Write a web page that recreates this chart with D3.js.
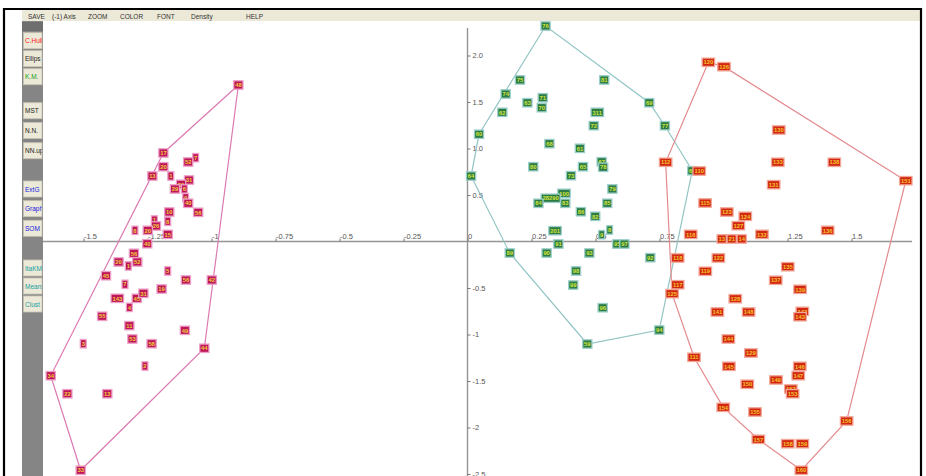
<!DOCTYPE html>
<html><head><meta charset="utf-8">
<script src="https://cdn.jsdelivr.net/npm/d3@7"></script>
<style>body{margin:0;background:#fff;overflow:hidden;} svg{display:block;}</style>
</head><body><svg id="c" width="926" height="476"></svg>
<script>
// ---- data (x, y, label) ----
const clusterA = [
 [-0.895,1.683,"48"],[-1.188,0.952,"17"],[-1.062,0.901,"7"],[-1.091,0.855,"52"],[-1.188,0.804,"20"],
 [-1.231,0.704,"13"],[-1.159,0.704,"1"],[-1.088,0.661,"31"],[-1.119,0.615,"30"],[-1.143,0.565,"29"],
 [-1.106,0.565,"6"],[-1.101,0.471,"9"],[-1.091,0.411,"40"],[-1.165,0.317,"10"],[-1.052,0.314,"56"],
 [-1.223,0.231,"1"],[-1.171,0.217,"8"],[-1.217,0.167,"26"],[-1.299,0.120,"8"],[-1.249,0.120,"20"],
 [-1.171,0.077,"15"],[-1.251,-0.024,"40"],[-1.303,-0.127,"56"],[-1.363,-0.220,"20"],[-1.325,-0.263,"1"],
 [-1.290,-0.220,"52"],[-1.171,-0.317,"5"],[-1.412,-0.368,"45"],[-1.100,-0.414,"56"],[-0.999,-0.414,"42"],
 [-1.338,-0.460,"7"],[-1.195,-0.511,"19"],[-1.368,-0.611,"143"],[-1.292,-0.611,"45"],[-1.266,-0.557,"31"],
 [-1.321,-0.708,"4"],[-1.427,-0.804,"55"],[-1.321,-0.905,"11"],[-1.104,-0.955,"49"],[-1.309,-1.048,"53"],
 [-1.234,-1.099,"58"],[-1.501,-1.099,"3"],[-1.028,-1.148,"44"],[-1.260,-1.339,"2"],[-1.628,-1.443,"34"],
 [-1.563,-1.637,"22"],[-1.407,-1.637,"13"],[-1.511,-2.460,"33"]
];
const clusterB = [
 [0.305,2.317,"76"],[0.205,1.737,"75"],[0.534,1.737,"81"],[0.149,1.586,"74"],[0.294,1.546,"71"],
 [0.234,1.492,"63"],[0.290,1.439,"70"],[0.710,1.492,"69"],[0.136,1.389,"62"],[0.507,1.389,"311"],
 [0.493,1.245,"72"],[0.771,1.245,"77"],[0.045,1.153,"60"],[0.320,1.052,"68"],[0.439,1.002,"61"],
 [0.257,0.804,"80"],[0.451,0.804,"65"],[0.524,0.858,"67"],[0.530,0.798,"78"],[0.014,0.704,"64"],
 [0.404,0.708,"73"],[0.878,0.761,"66"],[0.566,0.565,"79"],[0.377,0.518,"100"],[0.325,0.465,"28290"],
 [0.277,0.411,"84"],[0.382,0.411,"83"],[0.546,0.411,"85"],[0.443,0.320,"86"],[0.499,0.271,"82"],
 [0.342,0.116,"201"],[0.555,0.124,"8"],[0.524,0.073,"9"],[0.355,-0.027,"91"],[0.585,-0.027,"95"],
 [0.613,-0.027,"97"],[0.165,-0.124,"89"],[0.309,-0.124,"90"],[0.476,-0.124,"93"],[0.714,-0.174,"92"],
 [0.424,-0.317,"98"],[0.413,-0.468,"99"],[0.528,-0.712,"96"],[0.749,-0.952,"94"],[0.468,-1.102,"59"]
];
const clusterC = [
 [0.941,1.927,"120"],[1.002,1.880,"126"],[1.216,1.199,"130"],[0.774,0.852,"112"],[1.212,0.852,"133"],
 [1.433,0.852,"138"],[0.905,0.758,"110"],[1.712,0.654,"151"],[1.196,0.611,"131"],[0.928,0.414,"115"],
 [1.013,0.317,"123"],[1.085,0.271,"124"],[1.058,0.170,"127"],[1.407,0.120,"136"],[0.872,0.077,"116"],
 [1.150,0.077,"132"],[0.993,0.027,"13"],[1.032,0.027,"21"],[1.071,0.027,"14"],[0.821,-0.177,"118"],
 [0.980,-0.177,"122"],[1.251,-0.271,"135"],[0.929,-0.320,"119"],[1.204,-0.417,"137"],[0.821,-0.465,"117"],
 [0.799,-0.561,"125"],[1.299,-0.514,"139"],[1.046,-0.615,"128"],[0.976,-0.758,"141"],[1.098,-0.758,"148"],
 [1.308,-0.751,"142"],[1.299,-0.809,"143"],[1.019,-1.048,"144"],[1.107,-1.199,"129"],[0.885,-1.245,"111"],
 [1.021,-1.342,"145"],[1.298,-1.342,"146"],[1.292,-1.443,"147"],[1.205,-1.489,"149"],[1.093,-1.535,"150"],
 [1.263,-1.586,"152"],[1.270,-1.637,"153"],[0.999,-1.783,"154"],[1.123,-1.833,"155"],[1.481,-1.930,"156"],
 [1.136,-2.127,"157"],[1.251,-2.174,"158"],[1.308,-2.174,"159"],[1.304,-2.460,"160"]
];
const xTicks = [-1.5,-1.25,-1,-0.75,-0.5,-0.25,0,0.25,0.5,0.75,1,1.25,1.5];
const xTickLabels = ["-1.5","-1.25","-1","-0.75","-0.5","-0.25","0","0.25","0.5","0.75","1.0","1.25","1.5"];
const yTicks = [2,1.5,1,0.5,-0.5,-1,-1.5,-2,-2.5];
const yTickLabels = ["2.0","1.5","1.0","0.5","-0.5","-1","-1.5","-2","-2.5"];
const menuItems = ["SAVE","(-1) Axis","ZOOM","COLOR","FONT","Density","HELP"];
const buttons = ["C.Hull","Ellips","K.M.","MST","N.N.","NN.up","ExtG","Graph","SOM","ItaKM","Means","Clust"];

// ---- styles ----
const menuX = [28,52,88,120,157,191,246];
const btnY = [40.7,58.7,76.7,110.7,130.5,150.7,189,208.7,228.3,268,286,304];
const btnColor = ["#ff2020","#222","#20a020","#222","#222","#222","#2020e0","#2020e0","#2020e0","#20a0a0","#20a0a0","#20a0a0"];
const styles = [
  {data: clusterA, fill:"#bf1559", halo:"#eca0c8", text:"#f2cf3a", hull:"#dc7ab2"},
  {data: clusterB, fill:"#2c7c44", halo:"#9ccfcb", text:"#d4e63c", hull:"#92c4c4"},
  {data: clusterC, fill:"#d22812", halo:"#f2a898", text:"#f6c42c", hull:"#e48a8e"}
];

const svg = d3.select("#c");
const x = d3.scaleLinear().domain([0,1]).range([467.5,723.5]);
const y = d3.scaleLinear().domain([0,1]).range([241.5,148.5]);

svg.append("rect").attr("width",926).attr("height",476).attr("fill","#fff");

// axes lines
svg.append("line").attr("x1",43).attr("x2",912).attr("y1",y(0)).attr("y2",y(0))
  .attr("stroke","#959595").attr("stroke-width",1.4);
svg.append("line").attr("x1",x(0)).attr("x2",x(0)).attr("y1",28).attr("y2",476)
  .attr("stroke","#959595").attr("stroke-width",1.4);

const xAxis = d3.axisTop(x).tickValues(xTicks).tickSize(3).tickFormat((d,i)=>xTickLabels[i]);
const gx = svg.append("g").attr("transform",`translate(0,${y(0)})`).call(xAxis);
gx.select(".domain").remove();
gx.selectAll(".tick line").attr("stroke","#777");
gx.selectAll(".tick text").attr("text-anchor","start").attr("x",0).attr("y",-3)
  .attr("fill","#555").style("font","7.5px 'Liberation Sans', Arial, sans-serif");

const yAxis = d3.axisRight(y).tickValues(yTicks).tickSize(3).tickFormat((d,i)=>yTickLabels[i]);
const gy = svg.append("g").attr("transform",`translate(${x(0)},0)`).call(yAxis);
gy.select(".domain").remove();
gy.selectAll(".tick line").attr("stroke","#777");
gy.selectAll(".tick text").attr("x",5)
  .attr("fill","#555").style("font","7.5px 'Liberation Sans', Arial, sans-serif");

// hulls
styles.forEach(s=>{
  const pts = s.data.map(d=>[x(d[0]),y(d[1])]);
  const h = d3.polygonHull(pts);
  svg.append("path").attr("d","M"+h.join("L")+"Z").attr("fill","none")
    .attr("stroke",s.hull).attr("stroke-width",1.2);
});

// markers
styles.forEach(s=>{
  const g = svg.append("g");
  const m = g.selectAll("g").data(s.data).join("g")
    .attr("transform",d=>`translate(${x(d[0])},${y(d[1])})`);
  m.append("rect")
    .attr("x",d=>-(d[2].length*3.3+2.6)/2).attr("y",-4.2)
    .attr("width",d=>d[2].length*3.3+2.6).attr("height",8.4)
    .attr("fill",s.fill).attr("stroke",s.halo).attr("stroke-width",1.3);
  m.append("text").text(d=>d[2]).attr("text-anchor","middle").attr("y",2.2)
    .attr("fill",s.text).style("font","bold 5.8px 'Liberation Sans', Arial, sans-serif");
});

// menu bar
svg.append("rect").attr("x",22).attr("y",10).attr("width",899).attr("height",11).attr("fill","#ece9d8");
svg.selectAll(".menu").data(menuItems).join("text").attr("class","menu")
  .attr("x",(d,i)=>menuX[i]).attr("y",18.5).text(d=>d)
  .attr("fill","#333").style("font","6.5px 'Liberation Sans', Arial, sans-serif");

// toolbar
svg.append("rect").attr("x",22).attr("y",21).attr("width",21).attr("height",455).attr("fill","#858585");
svg.append("rect").attr("x",22).attr("y",22).attr("width",21).attr("height",9).attr("fill","#6e6e6e");
const defs = svg.append("defs");
defs.append("clipPath").attr("id","btnclip").append("rect").attr("x",23.5).attr("y",0).attr("width",18.5).attr("height",476);
const bg = svg.append("g");
bg.selectAll("rect").data(buttons).join("rect")
  .attr("x",23.5).attr("y",(d,i)=>btnY[i]-8).attr("width",18.5).attr("height",16)
  .attr("fill","#ece9d8").attr("stroke","#c8c4b4").attr("stroke-width",0.8);
bg.selectAll("text").data(buttons).join("text")
  .attr("x",25).attr("y",(d,i)=>btnY[i]+2.5).text(d=>d).attr("clip-path","url(#btnclip)")
  .attr("fill",(d,i)=>btnColor[i]).style("font","6.5px 'Liberation Sans', Arial, sans-serif");

// frame
svg.append("line").attr("x1",4).attr("x2",4).attr("y1",8).attr("y2",476).attr("stroke","#000").attr("stroke-width",2.2);
svg.append("line").attr("x1",3).attr("x2",922).attr("y1",9).attr("y2",9).attr("stroke","#000").attr("stroke-width",2.2);
svg.append("line").attr("x1",921).attr("x2",921).attr("y1",8).attr("y2",476).attr("stroke","#000").attr("stroke-width",2.2);
</script></body></html>
